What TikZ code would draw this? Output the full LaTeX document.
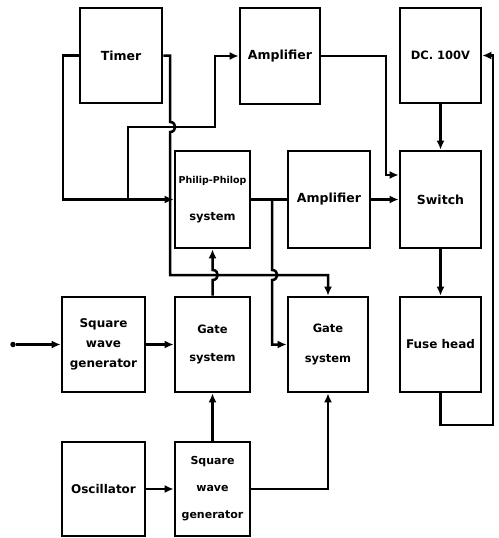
\documentclass[tikz,border=0pt]{standalone}
\usepackage{fontspec}
\setmainfont{DejaVu Sans}
\usetikzlibrary{arrows.meta}
\begin{document}
\begin{tikzpicture}[x=1pt,y=-1pt,
  box/.style={draw, line width=2.7pt, inner sep=0pt, align=center, font=\bfseries\fontsize{12.5}{15}\selectfont},
  conn/.style={line width=2.5pt},
  arr/.style={conn, -{Latex[length=9pt,width=8pt]}},
  dotnode/.style={circle, fill, inner sep=0pt, minimum size=5.5pt}
]
\useasboundingbox (0,0) rectangle (498,538);

% boxes
\node[box, minimum width=82pt, minimum height=95pt] (timer) at (121,55.5) {Timer};
\node[box, minimum width=80pt, minimum height=96pt] (amp1) at (280,56) {Amplifier};
\node[box, minimum width=81pt, minimum height=95pt, font=\bfseries\fontsize{11.5}{14}\selectfont] (dc) at (440.5,55.5) {DC. 100V};
\node[box, minimum width=75pt, minimum height=97pt] (ff) at (212.5,199.5)
  {\fontsize{9.5}{12}\selectfont Philip-Philop\\[22pt]\fontsize{11.5}{15}\selectfont system};
\node[box, minimum width=82pt, minimum height=97pt] (amp2) at (329,199.5) {Amplifier};
\node[box, minimum width=81pt, minimum height=97pt] (sw) at (440.5,199.5) {Switch};
\node[box, minimum width=83pt, minimum height=95pt, font=\bfseries\fontsize{12}{20}\selectfont] (sq1) at (103.5,344.5) {Square\\wave\\generator};
\node[box, minimum width=75pt, minimum height=95pt, font=\bfseries\fontsize{11.5}{28}\selectfont] (g1) at (212.5,344.5) {Gate\\system};
\node[box, minimum width=80pt, minimum height=95pt, font=\bfseries\fontsize{11.5}{30}\selectfont] (g2) at (328,344.5) {Gate\\system};
\node[box, minimum width=81pt, minimum height=95pt, font=\bfseries\fontsize{12}{15}\selectfont] (fuse) at (440.5,344.5) {Fuse head};
\node[box, minimum width=83pt, minimum height=94pt, font=\bfseries\fontsize{12}{15}\selectfont] (osc) at (103.5,489) {Oscillator};
\node[box, minimum width=75pt, minimum height=94pt, font=\bfseries\fontsize{11}{27}\selectfont] (sq2) at (212.5,489) {Square\\wave\\generator};

% input dot
\node[dotnode] (in) at (13,344.5) {};
\coordinate (j1) at (128,199.5);
\coordinate (j2) at (272,199.5);
\coordinate (k) at (386,175);

% connectors
\draw[arr] (in) -- (sq1);
\draw[arr] (sq1) -- (g1);
\draw[arr] (osc) -- (sq2);
\draw[arr] (sq2) -- (g1);
\draw[arr] (sq2.east) -| (g2.south);
\draw[arr] (g1.north) -- (212.5,280) .. controls (219.5,280) and (219.5,270) .. (212.5,270) -- (ff.south);
\draw[arr] (timer.west) -- (63,55.5) |- (ff.west);
\draw[arr] (j1) |- (215,127) |- (amp1.west);
\draw[arr] (timer.east) -- (170,55.5) -- (170,122) .. controls (177,122) and (177,132) .. (170,132) -- (170,275) -- (328,275) -- (g2.north);
\draw[conn] (ff) -- (amp2);
\draw[arr] (j2) -- (272,270) .. controls (279,270) and (279,280) .. (272,280) -- (272,344.5) -- (g2.west);
\draw[arr] (amp2) -- (sw);
\draw[arr] (amp1.east) -| (k) -- (k -| sw.west);
\draw[arr] (dc) -- (sw);
\draw[arr] (sw) -- (fuse);
\draw[arr] (fuse.south) |- (493,425) |- (dc.east);
\end{tikzpicture}
\end{document}
